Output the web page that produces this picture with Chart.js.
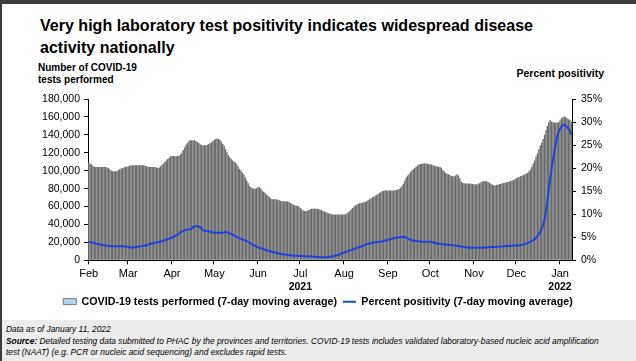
<!DOCTYPE html>
<html>
<head>
<meta charset="utf-8">
<script src="https://cdn.jsdelivr.net/npm/chart.js@4"></script>
<style>
  body { margin: 0; width: 636px; height: 361px; position: relative; overflow: hidden; background: #fff;
         font-family: "Liberation Sans", Arial, sans-serif; color: #000; }
  #frameTop { position: absolute; left: 0; top: 0; width: 636px; height: 4px; background: #3d3d3d; }
  #frameLeft { position: absolute; left: 0; top: 0; width: 2px; height: 361px; background: #3d3d3d; }
  #title { position: absolute; left: 40px; top: 15px; font-weight: bold; font-size: 17px; line-height: 22px;
           white-space: nowrap; transform-origin: left top; }
  #yTitle { position: absolute; left: 38px; top: 62px; font-weight: bold; font-size: 10px; line-height: 12px; }
  #y1Title { position: absolute; right: 32px; top: 67px; font-weight: bold; font-size: 10.5px; }
  #wrap { position: absolute; left: 0; top: 0; width: 636px; height: 317px; }
  #footer { position: absolute; left: 2px; top: 320px; width: 634px; height: 41px; background: #ececec;
            font-style: italic; font-size: 8.4px; line-height: 11.5px; padding: 4px 0 0 4px; box-sizing: border-box;
            white-space: nowrap; }
</style>
</head>
<body>
<div id="frameTop"></div>
<div id="frameLeft"></div>
<div id="title">Very high laboratory test positivity indicates widespread disease<br>activity nationally</div>
<div id="yTitle">Number of COVID-19<br>tests performed</div>
<div id="y1Title">Percent positivity</div>
<div id="wrap"><canvas id="chart"></canvas></div>
<div id="footer">
  Data as of January 11, 2022<br>
  <b>Source:</b> Detailed testing data submitted to PHAC by the provinces and territories. COVID-19 tests includes validated laboratory-based nucleic acid amplification<br>
  test (NAAT) (e.g. PCR or nucleic acid sequencing) and excludes rapid tests.
</div>
<script>
// month names shown on the x axis, and the year written under Jul and Jan
const monthNames = ["Feb", "Mar", "Apr", "May", "Jun", "Jul", "Aug", "Sep", "Oct", "Nov", "Dec", "Jan"]
const yearMarks = [["Jul", "2021"], ["Jan", "2022"]]

// tests performed, 7-day moving average, thousands per day
const testsFeb = [109, 108, 107, 105.5, 104.5, 104, 104, 104, 104, 104, 104, 104, 104, 103.5, 103, 101.5, 100, 99.5, 99.5, 99.5,
  99.5, 100.5, 101.5, 102.5, 103, 103.5, 104, 104.5]
const testsMar = [105, 105.5, 106, 106, 106, 106, 106, 106, 106, 106, 106, 106, 105.5, 105, 104.5, 104, 104, 104, 104, 104,
  103.5, 103, 103.5, 105, 106.5, 108, 110, 111.5, 113, 114.5, 116]
const testsApr = [116.5, 116.5, 116, 116, 116.5, 117, 118, 120, 123, 126, 129, 131, 133, 134, 134, 134, 134, 133, 132, 131,
  129.5, 128.5, 128.5, 128.5, 128.5, 129, 129.5, 130.5, 131.5, 133]
const testsMay = [134.5, 135.5, 136, 135.5, 134.5, 132.5, 130, 127.5, 124, 120.5, 117.5, 115, 113, 111.5, 110, 109, 107, 104.5, 102, 100,
  97.7, 95.5, 92.5, 89, 86, 83, 81.5, 80.5, 80, 79.8, 80.5]
const testsJun = [81.5, 81.5, 80, 78, 76.5, 75, 73.5, 72, 70.5, 69, 68, 68, 68, 68, 67.5, 67, 66.5, 66, 66, 66,
  66, 65.5, 65, 64, 63, 62, 61.5, 61, 61, 60]
const testsJul = [58.5, 57, 55.5, 55, 55, 55, 56, 57, 57.5, 57.5, 57.5, 57.5, 57.5, 57, 56.5, 56, 55, 54.5, 54, 53,
  52.5, 52, 51.5, 51.2, 51, 51, 51, 51, 51, 51, 51]
const testsAug = [51.2, 51.5, 52.2, 53.5, 55, 56.7, 58.5, 60, 61.2, 62.2, 63.2, 63.6, 64, 64.3, 64.7, 65, 66, 67, 68, 69,
  70, 71, 72, 73, 74, 75, 76, 77, 77.5, 78, 78]
const testsSep = [78, 78, 78, 78, 78, 78.2, 78.5, 79, 79.5, 81, 83, 85.5, 89, 92.5, 94.5, 96, 98.5, 100.2, 101.5, 103,
  104.5, 105.8, 106.8, 107.5, 107.8, 108, 108, 108, 107.8, 107.5]
const testsOct = [107.2, 107, 106.2, 105.5, 105, 104.7, 104.5, 104.2, 103, 100.5, 99, 97.5, 96.5, 96, 95, 94.2, 93.8, 93.5, 94.5, 95.9,
  94.5, 91.5, 88, 86.5, 86, 85.8, 85.8, 85.8, 85.8, 85.5, 85.2]
const testsNov = [84.8, 84.7, 85, 85.5, 86, 87, 88, 88.5, 88.5, 88.2, 87.5, 86.5, 85.5, 84.5, 83.8, 83.6, 84, 84.5, 85, 85.5,
  85.8, 86.2, 86.6, 87, 87.5, 88, 88.5, 89, 89.5, 90.5]
const testsDec = [91.5, 92.3, 93, 93.7, 94.3, 95, 96, 96.8, 97.5, 99.5, 101, 104, 108, 111.5, 115.5, 119.5, 124, 128, 131.5, 135.5,
  140, 145, 150, 154, 156.5, 155, 154, 153.7, 153.7, 153.7, 154]
const testsJan = [156, 158.5, 159.5, 160.4, 160, 158.5, 157.5, 156.7, 155]

// percent positivity, 7-day moving average
const posFeb = [4.0, 3.95, 3.9, 3.8, 3.7, 3.6, 3.55, 3.5, 3.45, 3.4, 3.3, 3.25, 3.2, 3.15, 3.1, 3.1, 3.05, 3.05, 3.05, 3.05,
  3.05, 3.05, 3.05, 3.05, 3.05, 3.0, 3.0, 2.95]
const posMar = [2.9, 2.85, 2.8, 2.8, 2.8, 2.85, 2.9, 2.95, 3.0, 3.05, 3.1, 3.15, 3.2, 3.3, 3.4, 3.5, 3.6, 3.65, 3.7, 3.8,
  3.85, 3.9, 3.95, 4.05, 4.15, 4.3, 4.4, 4.5, 4.6, 4.7, 4.8]
const posApr = [4.9, 5.05, 5.2, 5.4, 5.55, 5.8, 6.0, 6.2, 6.4, 6.5, 6.6, 6.65, 6.7, 6.75, 6.9, 7.2, 7.4, 7.4, 7.4, 7.3,
  7.2, 6.9, 6.5, 6.4, 6.4, 6.35, 6.3, 6.2, 6.1, 6.05]
const posMay = [6.0, 6.0, 6.0, 6.0, 6.0, 6.0, 6.0, 6.05, 6.1, 6.1, 6.0, 5.85, 5.7, 5.55, 5.4, 5.2, 5.05, 4.9, 4.8, 4.65,
  4.5, 4.4, 4.3, 4.15, 4.0, 3.8, 3.6, 3.4, 3.25, 3.1, 2.95]
const posJun = [2.8, 2.7, 2.6, 2.5, 2.4, 2.3, 2.2, 2.1, 2.0, 1.95, 1.85, 1.8, 1.7, 1.65, 1.55, 1.45, 1.4, 1.35, 1.3, 1.25,
  1.2, 1.15, 1.1, 1.05, 1.05, 1.0, 1.0, 0.98, 0.96, 0.95]
const posJul = [0.95, 0.92, 0.9, 0.88, 0.85, 0.85, 0.84, 0.83, 0.82, 0.8, 0.78, 0.75, 0.72, 0.68, 0.66, 0.65, 0.65, 0.65, 0.65, 0.68,
  0.72, 0.76, 0.82, 0.88, 0.95, 1.02, 1.1, 1.2, 1.3, 1.45, 1.6]
const posAug = [1.7, 1.8, 1.9, 2.0, 2.1, 2.2, 2.3, 2.45, 2.55, 2.7, 2.8, 2.9, 3.0, 3.1, 3.25, 3.35, 3.45, 3.55, 3.65, 3.72,
  3.8, 3.85, 3.9, 3.95, 3.97, 4.0, 4.05, 4.1, 4.2, 4.3, 4.35]
const posSep = [4.4, 4.5, 4.6, 4.7, 4.8, 4.85, 4.9, 4.95, 5.0, 5.0, 5.05, 5.1, 5.05, 4.9, 4.75, 4.6, 4.45, 4.35, 4.28, 4.22,
  4.18, 4.15, 4.12, 4.1, 4.06, 4.04, 4.02, 4.0, 4.0, 4.0]
const posOct = [4.0, 3.95, 3.9, 3.8, 3.7, 3.65, 3.6, 3.55, 3.5, 3.5, 3.45, 3.4, 3.4, 3.35, 3.3, 3.3, 3.25, 3.2, 3.2, 3.15,
  3.1, 3.05, 3.0, 2.95, 2.9, 2.85, 2.8, 2.78, 2.75, 2.72, 2.7]
const posNov = [2.7, 2.7, 2.7, 2.7, 2.72, 2.74, 2.76, 2.78, 2.8, 2.8, 2.82, 2.84, 2.86, 2.88, 2.9, 2.9, 2.92, 2.94, 2.96, 2.98,
  3.0, 3.05, 3.08, 3.1, 3.12, 3.14, 3.16, 3.18, 3.2, 3.2]
const posDec = [3.2, 3.22, 3.25, 3.3, 3.35, 3.4, 3.5, 3.6, 3.75, 3.9, 4.05, 4.2, 4.4, 4.6, 4.9, 5.3, 5.7, 6.2, 6.9, 7.6,
  8.8, 10.6, 12.8, 15.2, 17.6, 19.8, 21.8, 23.6, 25.3, 26.8, 27.8]
const posJan = [28.5, 29.0, 29.3, 29.4, 29.2, 28.9, 28.6, 28.1, 27.2]

const testsByMonth = [testsFeb, testsMar, testsApr, testsMay, testsJun, testsJul, testsAug, testsSep, testsOct, testsNov, testsDec, testsJan]
const posByMonth = [posFeb, posMar, posApr, posMay, posJun, posJul, posAug, posSep, posOct, posNov, posDec, posJan]

// one label per day, "Mon d"
const labels = []
testsByMonth.forEach((m, i) => {
    m.forEach((v, d) => labels.push(monthNames[i] + " " + (d + 1)))
})
const tests = [].concat(...testsByMonth).map(v => v * 1000)
const positivity = [].concat(...posByMonth)

const isMonthStart = i => labels[i] !== undefined && labels[i].endsWith(" 1") && !labels[i].endsWith("1 1")

Chart.defaults.font.family = '"Liberation Sans", Arial, sans-serif'
Chart.defaults.color = "#000"

// fit the title to its width in the picture
const title = document.getElementById("title")
title.style.display = "inline-block"
title.style.transform = "scaleX(" + (493 / title.getBoundingClientRect().width) + ")"

const yearPlugin = {
    id: "years",
    afterDraw(chart) {
        const x = chart.scales.x
        const ctx = chart.ctx
        ctx.save()
        ctx.font = 'bold 10.5px "Liberation Sans", Arial, sans-serif'
        ctx.fillStyle = "#000"
        ctx.textAlign = "center"
        ctx.textBaseline = "middle"
        yearMarks.forEach(([m, y]) => {
            const idx = labels.indexOf(m + " 1")
            ctx.fillText(y, x.getPixelForValue(idx), x.bottom - 3)
        })
        ctx.restore()
    }
}

new Chart(document.getElementById("chart"), {
    data: {
        labels: labels,
        datasets: [
            {
                type: "bar",
                label: "COVID-19 tests performed (7-day moving average)",
                data: tests,
                yAxisID: "y",
                backgroundColor: "#6b6b6b",
                borderWidth: 0,
                barPercentage: 0.97,
                categoryPercentage: 1,
                order: 2
            },
            {
                type: "line",
                label: "Percent positivity (7-day moving average)",
                data: positivity,
                yAxisID: "y1",
                borderColor: "#2243d8",
                backgroundColor: "#2243d8",
                borderWidth: 2,
                pointRadius: 0,
                tension: 0.3,
                order: 1
            }
        ]
    },
    options: {
        responsive: true,
        maintainAspectRatio: false,
        animation: false,
        layout: { padding: { top: 99, left: 0, right: 0, bottom: 0 } },
        plugins: {
            tooltip: { enabled: false },
            legend: {
                position: "bottom",
                labels: {
                    usePointStyle: true,
                    pointStyleWidth: 13,
                    boxHeight: 6,
                    padding: 6,
                    font: { size: 10.7, weight: "bold" },
                    sort: (a, b) => a.datasetIndex - b.datasetIndex,
                    generateLabels(chart) {
                        const items = Chart.defaults.plugins.legend.labels.generateLabels(chart)
                        items.forEach(it => {
                            if (it.datasetIndex === 0) {
                                it.pointStyle = "rect"
                                it.fillStyle = "#b3d9f2"
                                it.strokeStyle = "#777"
                                it.lineWidth = 1
                            } else {
                                it.pointStyle = "line"
                                it.strokeStyle = "#2243d8"
                                it.lineWidth = 2
                            }
                        })
                        return items
                    }
                }
            }
        },
        scales: {
            x: {
                afterFit: s => { s.height = 30 },
                grid: {
                    drawOnChartArea: false,
                    tickLength: 4,
                    color: c => isMonthStart(c.index) ? "#000" : "rgba(0,0,0,0)"
                },
                border: { color: "#000" },
                ticks: {
                    autoSkip: false,
                    maxRotation: 0,
                    padding: 3,
                    font: { size: 11 },
                    callback: function (value, index) {
                        return isMonthStart(index) ? labels[index].split(" ")[0] : ""
                    }
                }
            },
            y: {
                position: "left",
                min: 0,
                max: 180000,
                afterFit: s => { s.width = 88 },
                grid: { drawOnChartArea: false, tickLength: 4, color: "#000" },
                border: { color: "#000" },
                ticks: {
                    stepSize: 20000,
                    padding: 4,
                    font: { size: 10.5 },
                    callback: v => v.toLocaleString("en-US")
                }
            },
            y1: {
                position: "right",
                min: 0,
                max: 35,
                afterFit: s => { s.width = 64 },
                grid: { drawOnChartArea: false, tickLength: 4, color: "#000" },
                border: { color: "#000" },
                ticks: {
                    stepSize: 5,
                    padding: 5,
                    font: { size: 10.5 },
                    callback: v => v + "%"
                }
            }
        }
    },
    plugins: [yearPlugin]
})
</script>
</body>
</html>
